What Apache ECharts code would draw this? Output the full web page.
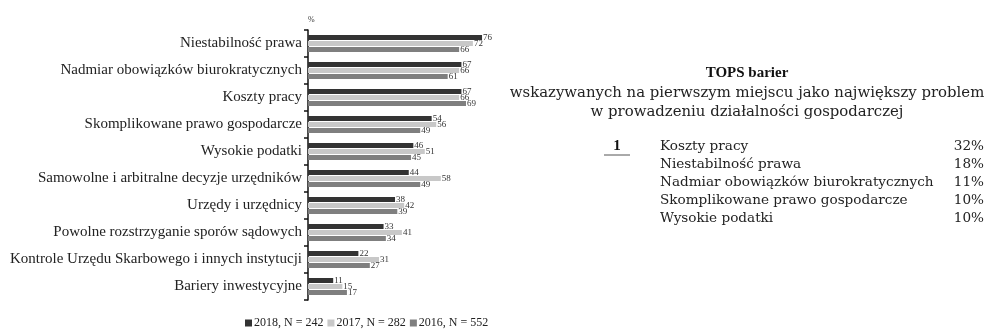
<!DOCTYPE html>
<html>
<head>
<meta charset="utf-8">
<script src="https://cdn.jsdelivr.net/npm/echarts@6/dist/echarts.min.js"></script>
<style>
html,body{margin:0;padding:0;background:#fff;}
#chart{width:986px;height:329px;}
</style>
</head>
<body>
<div id="chart"></div>
<script>
var categories = ["Niestabilność prawa", "Nadmiar obowiązków biurokratycznych", "Koszty pracy",
    "Skomplikowane prawo gospodarcze", "Wysokie podatki", "Samowolne i arbitralne decyzje urzędników",
    "Urzędy i urzędnicy", "Powolne rozstrzyganie sporów sądowych",
    "Kontrole Urzędu Skarbowego i innych instytucji", "Bariery inwestycyjne"];
var values2018 = [76, 67, 67, 54, 46, 44, 38, 33, 22, 11];
var values2017 = [72, 66, 66, 56, 51, 58, 42, 41, 31, 15];
var values2016 = [66, 61, 69, 49, 45, 49, 39, 34, 27, 17];
var seriesNames = ["2018, N = 242", "2017, N = 282", "2016, N = 552"];
var topItems = ["Koszty pracy", "Niestabilność prawa", "Nadmiar obowiązków biurokratycznych",
    "Skomplikowane prawo gospodarcze", "Wysokie podatki"];
var topPct = ["32%", "18%", "11%", "10%", "10%"];

var serif = "Liberation Serif";
var wide = "DejaVu Serif";
var colors = ["#333333", "#c8c8c8", "#7f7f7f"];

function barSeries(name, data, color) {
    return {
        name: name,
        type: "bar",
        data: data,
        barWidth: 5,
        barGap: "20%",
        itemStyle: {color: color},
        label: {
            show: true,
            position: "right",
            distance: 1,
            fontFamily: serif,
            fontSize: 9,
            color: "#333"
        }
    };
}

var graphics = [
    {type: "text", left: 308, top: 16, style: {text: "%", fontFamily: serif, fontSize: 8, fill: "#333"}},
    {type: "text", x: 747, y: 66, style: {text: "TOPS barier", fontFamily: serif, fontSize: 15, fontWeight: "bold", fill: "#111", textAlign: "center"}},
    {type: "text", x: 747, y: 86, style: {text: "wskazywanych na pierwszym miejscu jako największy problem", fontFamily: wide, fontSize: 14.9, fill: "#222", textAlign: "center"}},
    {type: "text", x: 747, y: 105, style: {text: "w prowadzeniu działalności gospodarczej", fontFamily: wide, fontSize: 14.9, fill: "#222", textAlign: "center"}},
    {type: "text", x: 617, y: 139, style: {text: "1", fontFamily: serif, fontSize: 15, fontWeight: "bold", fill: "#111", textAlign: "center"}},
    {type: "line", shape: {x1: 604, y1: 155, x2: 630, y2: 155}, style: {stroke: "#555", lineWidth: 1}}
];
topItems.forEach(function (t, i) {
    graphics.push({type: "text", x: 660, y: 139 + i * 18, style: {text: t, fontFamily: wide, fontSize: 13.6, fill: "#222"}});
    graphics.push({type: "text", x: 984, y: 139 + i * 18, style: {text: topPct[i], fontFamily: wide, fontSize: 13.6, fill: "#222", textAlign: "right"}});
});

var chart = echarts.init(document.getElementById("chart"));
chart.setOption({
    animation: false,
    color: colors,
    grid: {left: 308, top: 30, width: 229, height: 270},
    legend: {
        top: 312,
        left: 240,
        itemWidth: 7,
        itemHeight: 7,
        itemGap: 4,
        icon: "rect",
        textStyle: {fontFamily: serif, fontSize: 12, color: "#222", padding: [0, 0, 0, -3]},
        data: seriesNames
    },
    xAxis: {
        type: "value",
        min: 0,
        max: 100,
        show: false
    },
    yAxis: {
        type: "category",
        data: categories,
        inverse: true,
        axisLine: {lineStyle: {color: "#111", width: 1.5}},
        axisTick: {show: true, length: 4, lineStyle: {color: "#111", width: 1.5}},
        axisLabel: {fontFamily: serif, fontSize: 15, color: "#222", margin: 6}
    },
    series: [
        barSeries(seriesNames[0], values2018, colors[0]),
        barSeries(seriesNames[1], values2017, colors[1]),
        barSeries(seriesNames[2], values2016, colors[2])
    ],
    graphic: graphics
});
</script>
</body>
</html>
